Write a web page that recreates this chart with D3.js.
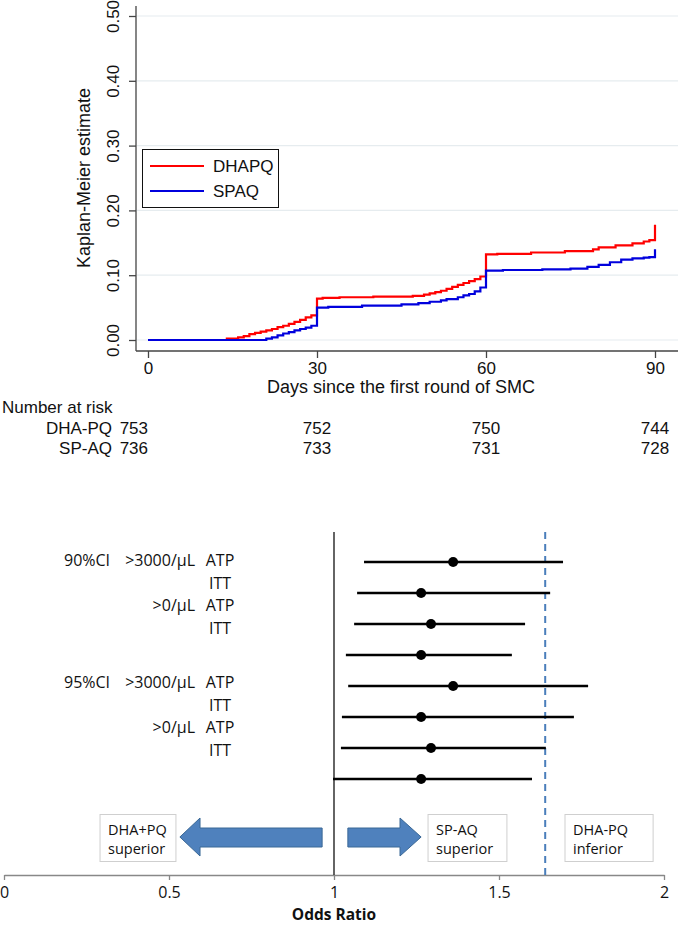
<!DOCTYPE html>
<html>
<head>
<meta charset="utf-8">
<script src="https://cdn.jsdelivr.net/npm/d3@7"></script>
<style>
  body { margin: 0; background: #fff; }
  .km text { font-family: "Liberation Sans", Arial, sans-serif; font-size: 17px; fill: #111; }
  .km text.title { font-size: 18px; }
  .forest text { font-family: "Open Sans", sans-serif; font-size: 16px; fill: #111; }
</style>
</head>
<body>
<svg id="chart" width="680" height="926"></svg>
<script>
// ---- Kaplan-Meier data (day, cumulative estimate) ----
const dhapqDays = [0, 14, 16, 17, 18, 19, 20, 21, 22, 23, 24, 25, 26, 27, 28, 29, 30, 31, 34, 40, 45, 47, 49, 50, 51, 52, 53, 54, 55, 56, 57, 58, 59, 60, 62, 68, 74, 79, 80, 83, 86, 88, 89, 90];
const dhapqKM   = [0, 0.002, 0.004, 0.006, 0.009, 0.011, 0.013, 0.015, 0.017, 0.020, 0.022, 0.025, 0.028, 0.031, 0.035, 0.038, 0.064, 0.065, 0.066, 0.067, 0.067, 0.068, 0.070, 0.072, 0.074, 0.076, 0.079, 0.082, 0.085, 0.088, 0.091, 0.094, 0.098, 0.132, 0.133, 0.135, 0.137, 0.140, 0.143, 0.146, 0.149, 0.152, 0.154, 0.178];
const spaqDays  = [0, 21, 22, 23, 24, 25, 26, 27, 28, 29, 30, 32, 38, 45, 48, 50, 52, 53, 55, 56, 57, 58, 59, 60, 63, 70, 75, 78, 80, 82, 84, 86, 88, 89, 90];
const spaqKM    = [0, 0.002, 0.004, 0.007, 0.010, 0.012, 0.015, 0.017, 0.019, 0.022, 0.050, 0.051, 0.053, 0.055, 0.057, 0.059, 0.061, 0.063, 0.066, 0.069, 0.071, 0.075, 0.081, 0.107, 0.108, 0.109, 0.110, 0.113, 0.116, 0.120, 0.124, 0.126, 0.127, 0.128, 0.140];

const kmSeries = ["DHAPQ", "SPAQ"];
const kmColors = ["#ff0000", "#0000dd"];
const kmYTicks = [0, 0.1, 0.2, 0.3, 0.4, 0.5];
const kmXTicks = [0, 30, 60, 90];

// ---- Number at risk ----
const riskArms = ["DHA-PQ", "SP-AQ"];
const riskDHAPQ = [753, 752, 750, 744];
const riskSPAQ = [736, 733, 731, 728];

// ---- Forest plot ----
const labelCI = ["90%CI", "", "", "", "95%CI", "", "", ""];
const labelThreshold = [">3000/\u00b5L", "", ">0/\u00b5L", "", ">3000/\u00b5L", "", ">0/\u00b5L", ""];
const labelPop = ["ATP", "ITT", "ATP", "ITT", "ATP", "ITT", "ATP", "ITT"];
const oddsRatio = [1.361, 1.264, 1.294, 1.264, 1.361, 1.264, 1.294, 1.264];
const ciLow  = [1.091, 1.070, 1.061, 1.036, 1.043, 1.024, 1.021, 0.997];
const ciHigh = [1.694, 1.655, 1.579, 1.539, 1.770, 1.727, 1.642, 1.600];
const inferiorMargin = 1.64;
const orTicks = [0, 0.5, 1, 1.5, 2];
const noteTexts = [["DHA+PQ", "superior"], ["SP-AQ", "superior"], ["DHA-PQ", "inferior"]];

const svg = d3.select("#chart");

// =========== Kaplan-Meier panel ===========
const km = svg.append("g").attr("class", "km");
const x = d3.scaleLinear().domain([0, 90]).range([148, 655]);
const y = d3.scaleLinear().domain([0, 0.5]).range([340, 16]);

// grid
km.append("g").selectAll("line").data(kmYTicks).join("line")
  .attr("x1", 137).attr("x2", 678)
  .attr("y1", d => y(d)).attr("y2", d => y(d))
  .attr("stroke", "#e6ecef").attr("stroke-width", 1.2);

// y axis
const yAxis = km.append("g").attr("transform", "translate(136,0)")
  .call(d3.axisLeft(y).tickValues(kmYTicks).tickFormat(d3.format(".2f")).tickSize(7).tickSizeOuter(0));
yAxis.select(".domain").attr("d", "M0,6V351").attr("stroke", "#444").attr("stroke-width", 1.3);
yAxis.selectAll(".tick line").attr("stroke", "#444").attr("stroke-width", 1.3);
yAxis.selectAll(".tick text")
  .attr("font-size", null).attr("font-family", null)
  .attr("x", null).attr("dy", null)
  .attr("transform", "translate(-17,0) rotate(-90)")
  .attr("text-anchor", "middle")
  .attr("fill", "#111");

// x axis
const xAxis = km.append("g").attr("transform", "translate(0,351)")
  .call(d3.axisBottom(x).tickValues(kmXTicks).tickSize(7).tickSizeOuter(0));
xAxis.select(".domain").attr("d", "M136,0H678").attr("stroke", "#444").attr("stroke-width", 1.3);
xAxis.selectAll(".tick line").attr("stroke", "#444").attr("stroke-width", 1.3);
xAxis.selectAll(".tick text")
  .attr("font-size", null).attr("font-family", null)
  .attr("y", 23).attr("dy", null).attr("fill", "#111");

km.append("text").attr("class", "title")
  .attr("transform", "translate(90,178) rotate(-90)")
  .attr("text-anchor", "middle")
  .text("Kaplan-Meier estimate");

km.append("text").attr("class", "title")
  .attr("x", 401).attr("y", 393)
  .attr("text-anchor", "middle")
  .text("Days since the first round of SMC");

// curves
const stepLine = d3.line()
  .x(d => x(d[0]))
  .y(d => y(d[1]))
  .curve(d3.curveStepAfter);

const curves = [d3.zip(dhapqDays, dhapqKM), d3.zip(spaqDays, spaqKM)];
km.append("g").selectAll("path").data(curves).join("path")
  .attr("d", stepLine)
  .attr("fill", "none")
  .attr("stroke", (d, i) => kmColors[i])
  .attr("stroke-width", 2.2);

// legend
const legend = km.append("g");
legend.append("rect")
  .attr("x", 142.5).attr("y", 149.5).attr("width", 136).attr("height", 58)
  .attr("fill", "#fff").attr("stroke", "#111").attr("stroke-width", 1);
kmSeries.forEach((name, i) => {
  const ly = 166 + i * 25;
  legend.append("line").attr("x1", 150).attr("x2", 204).attr("y1", ly).attr("y2", ly)
    .attr("stroke", kmColors[i]).attr("stroke-width", 2.2);
  legend.append("text").attr("x", 213).attr("y", ly + 6).text(name);
});

// number at risk
km.append("text").attr("x", 2).attr("y", 413).text("Number at risk");
[riskDHAPQ, riskSPAQ].forEach((row, r) => {
  const ry = 434 + r * 20;
  km.append("text").attr("x", 112).attr("y", ry).attr("text-anchor", "end").text(riskArms[r]);
  km.append("g").selectAll("text").data(row).join("text")
    .attr("x", (d, i) => x(kmXTicks[i]))
    .attr("y", ry)
    .attr("text-anchor", (d, i) => i === 0 ? "end" : "middle")
    .text(d => d);
});

// =========== Forest plot panel ===========
const fp = svg.append("g").attr("class", "forest");
const xo = d3.scaleLinear().domain([0, 2]).range([4, 664]);
const yr = d3.scalePoint().domain(d3.range(oddsRatio.length)).range([562, 779]);
const axisY = 875;

// axis
const oAxis = fp.append("g").attr("transform", `translate(0,${axisY})`)
  .call(d3.axisBottom(xo).tickValues(orTicks).tickFormat(d => d).tickSize(5).tickSizeOuter(0));
oAxis.select(".domain").attr("stroke", "#888").attr("stroke-width", 1.3);
oAxis.selectAll(".tick line").attr("stroke", "#888").attr("stroke-width", 1.3);
oAxis.selectAll(".tick text")
  .attr("font-size", null).attr("font-family", null)
  .attr("y", 12).attr("dy", "0.71em").attr("fill", "#111");

fp.append("text")
  .attr("x", xo(1)).attr("y", 920)
  .attr("text-anchor", "middle")
  .attr("font-weight", "bold")
  .style("font-size", "15.5px")
  .text("Odds Ratio");

// reference line at OR = 1
fp.append("line")
  .attr("x1", xo(1)).attr("x2", xo(1)).attr("y1", 532).attr("y2", axisY)
  .attr("stroke", "#111").attr("stroke-width", 1.3);

// non-inferiority margin
fp.append("line")
  .attr("x1", xo(inferiorMargin)).attr("x2", xo(inferiorMargin)).attr("y1", 532).attr("y2", axisY)
  .attr("stroke", "#4a7ebb").attr("stroke-width", 2).attr("stroke-dasharray", "7,5");

// CI bars and points
const rows = d3.range(oddsRatio.length);
fp.append("g").selectAll("line").data(rows).join("line")
  .attr("x1", i => xo(ciLow[i])).attr("x2", i => xo(ciHigh[i]))
  .attr("y1", i => yr(i)).attr("y2", i => yr(i))
  .attr("stroke", "#000").attr("stroke-width", 2.6);
fp.append("g").selectAll("circle").data(rows).join("circle")
  .attr("cx", i => xo(oddsRatio[i])).attr("cy", i => yr(i)).attr("r", 5)
  .attr("fill", "#000");

// row labels (placed on their own spacing, as in the source figure)
const labelY = i => 566 + Math.floor(i / 4) * 122 + (i % 4) * 22.7;
fp.append("g").selectAll("text.ci").data(rows).join("text")
  .attr("x", 64).attr("y", labelY).text(i => labelCI[i]);
fp.append("g").selectAll("text.th").data(rows).join("text")
  .attr("x", 195).attr("y", labelY).attr("text-anchor", "end").text(i => labelThreshold[i]);
fp.append("g").selectAll("text.pop").data(rows).join("text")
  .attr("x", 220).attr("y", labelY).attr("text-anchor", "middle").text(i => labelPop[i]);

// arrows
const arrowPath = (tail, base, tip) => {
  const t = xo(tail), b = xo(base), p = xo(tip);
  return `M${t},828L${b},828L${b},818L${p},837L${b},856L${b},847L${t},847Z`;
};
fp.append("path").attr("d", arrowPath(0.964, 0.594, 0.533))
  .attr("fill", "#4f81bd").attr("stroke", "#3a6896").attr("stroke-width", 1);
fp.append("path").attr("d", arrowPath(1.042, 1.2, 1.264))
  .attr("fill", "#4f81bd").attr("stroke", "#3a6896").attr("stroke-width", 1);

// note boxes
const boxes = [[0.291, 0.521], [1.285, 1.524], [1.70, 1.967]];
boxes.forEach((b, i) => {
  const g = fp.append("g");
  g.append("rect")
    .attr("x", xo(b[0])).attr("y", 814.5)
    .attr("width", xo(b[1]) - xo(b[0])).attr("height", 47)
    .attr("fill", "#fff").attr("stroke", "#cfcfcf").attr("stroke-width", 1);
  g.selectAll("text").data(noteTexts[i]).join("text")
    .attr("x", xo(b[0]) + 8).attr("y", (d, k) => 835 + k * 19)
    .style("font-size", "14.5px")
    .text(d => d);
});
</script>
</body>
</html>
